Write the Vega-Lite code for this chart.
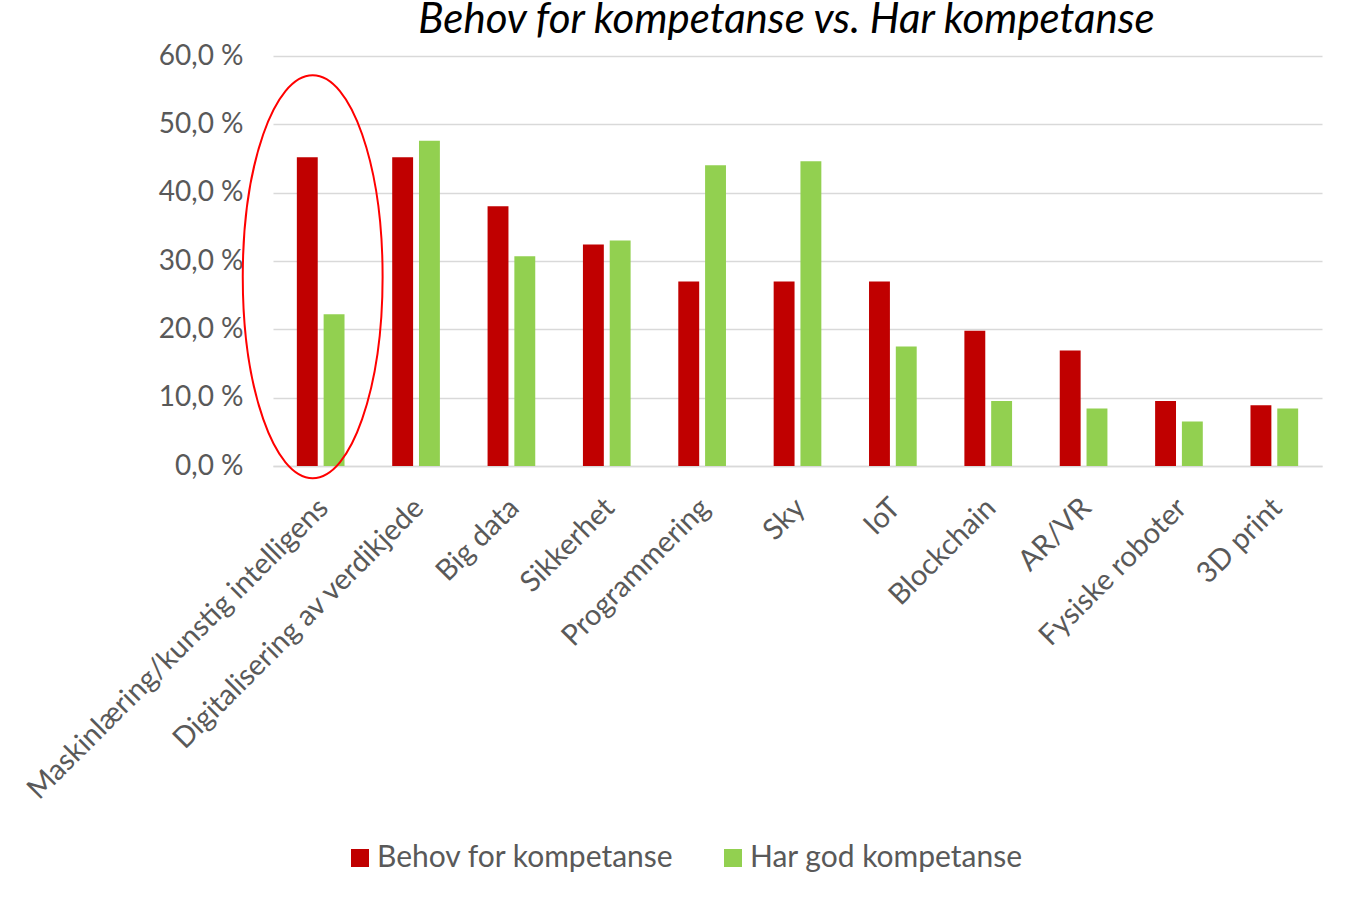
{
  "$schema": "https://vega.github.io/schema/vega-lite/v6.json",
  "width": 1049,
  "height": 410,
  "autosize": "none",
  "padding": {"left": 273, "top": 56, "right": 33, "bottom": 435},
  "background": "white",
  "title": {
    "text": "Behov for kompetanse vs. Har kompetanse",
    "font": "Lato",
    "fontSize": 42,
    "fontStyle": "italic",
    "fontWeight": "normal",
    "color": "#000000",
    "anchor": "middle",
    "dx": -11,
    "offset": 0
  },
  "config": {
    "view": {"stroke": null},
    "font": "Lato",
    "axis": {
      "labelFont": "Lato",
      "labelFontSize": 28,
      "labelColor": "#595959",
      "ticks": false,
      "title": null
    },
    "legend": {
      "labelFont": "Lato",
      "labelFontSize": 30,
      "labelColor": "#595959",
      "labelLimit": 600
    }
  },
  "layer": [
    {
      "data": {
        "values": [
          {"kategori": "Maskinlæring/kunstig intelligens", "serie": "Behov for kompetanse", "verdi": 45.2},
          {"kategori": "Maskinlæring/kunstig intelligens", "serie": "Har god kompetanse", "verdi": 22.2},
          {"kategori": "Digitalisering av verdikjede", "serie": "Behov for kompetanse", "verdi": 45.2},
          {"kategori": "Digitalisering av verdikjede", "serie": "Har god kompetanse", "verdi": 47.6},
          {"kategori": "Big data", "serie": "Behov for kompetanse", "verdi": 38.0},
          {"kategori": "Big data", "serie": "Har god kompetanse", "verdi": 30.7},
          {"kategori": "Sikkerhet", "serie": "Behov for kompetanse", "verdi": 32.4},
          {"kategori": "Sikkerhet", "serie": "Har god kompetanse", "verdi": 33.0},
          {"kategori": "Programmering", "serie": "Behov for kompetanse", "verdi": 27.0},
          {"kategori": "Programmering", "serie": "Har god kompetanse", "verdi": 44.0},
          {"kategori": "Sky", "serie": "Behov for kompetanse", "verdi": 27.0},
          {"kategori": "Sky", "serie": "Har god kompetanse", "verdi": 44.6},
          {"kategori": "IoT", "serie": "Behov for kompetanse", "verdi": 27.0},
          {"kategori": "IoT", "serie": "Har god kompetanse", "verdi": 17.5},
          {"kategori": "Blockchain", "serie": "Behov for kompetanse", "verdi": 19.8},
          {"kategori": "Blockchain", "serie": "Har god kompetanse", "verdi": 9.5},
          {"kategori": "AR/VR", "serie": "Behov for kompetanse", "verdi": 16.9},
          {"kategori": "AR/VR", "serie": "Har god kompetanse", "verdi": 8.4},
          {"kategori": "Fysiske roboter", "serie": "Behov for kompetanse", "verdi": 9.5},
          {"kategori": "Fysiske roboter", "serie": "Har god kompetanse", "verdi": 6.5},
          {"kategori": "3D print", "serie": "Behov for kompetanse", "verdi": 8.9},
          {"kategori": "3D print", "serie": "Har god kompetanse", "verdi": 8.4}
        ]
      },
      "mark": {"type": "bar"},
      "encoding": {
        "x": {
          "field": "kategori",
          "type": "nominal",
          "sort": null,
          "scale": {"paddingInner": 0.5, "paddingOuter": 0.25},
          "axis": {
            "labelAngle": -45,
            "labelPadding": 27,
            "labelOffset": -7,
            "labelFontSize": 29,
            "domainColor": "#d9d9d9",
            "domainWidth": 1.5,
            "grid": false,
            "labelLimit": 700
          }
        },
        "xOffset": {
          "field": "serie",
          "type": "nominal",
          "scale": {"paddingInner": 0.22, "paddingOuter": 0}
        },
        "y": {
          "field": "verdi",
          "type": "quantitative",
          "scale": {"domain": [0, 60], "nice": false},
          "axis": {
            "values": [0, 10, 20, 30, 40, 50, 60],
            "labelExpr": "replace(format(datum.value, '.1f'), '.', ',') + ' %'",
            "domain": false,
            "gridColor": "#d9d9d9",
            "gridWidth": 1.5,
            "labelPadding": 30
          }
        },
        "color": {
          "field": "serie",
          "type": "nominal",
          "scale": {
            "domain": ["Behov for kompetanse", "Har god kompetanse"],
            "range": ["#C00000", "#92D050"]
          },
          "legend": {
            "title": null,
            "orient": "none",
            "direction": "horizontal",
            "legendX": 72,
            "legendY": 787,
            "symbolType": "square",
            "symbolSize": 324,
            "symbolStrokeWidth": 0,
            "labelOffset": 2,
            "columnPadding": 44
          }
        }
      }
    },
    {
      "data": {"values": [{"kategori": "Maskinlæring/kunstig intelligens", "verdi": 27.7}]},
      "mark": {
        "type": "point",
        "shape": "M -0.347 0 A 0.347 1 0 1 0 0.347 0 A 0.347 1 0 1 0 -0.347 0 Z",
        "size": 162409,
        "filled": false,
        "stroke": "#FF0000",
        "strokeWidth": 2,
        "opacity": 1,
        "xOffset": -8
      },
      "encoding": {
        "x": {"field": "kategori", "type": "nominal", "sort": null},
        "y": {"field": "verdi", "type": "quantitative"}
      }
    }
  ]
}
